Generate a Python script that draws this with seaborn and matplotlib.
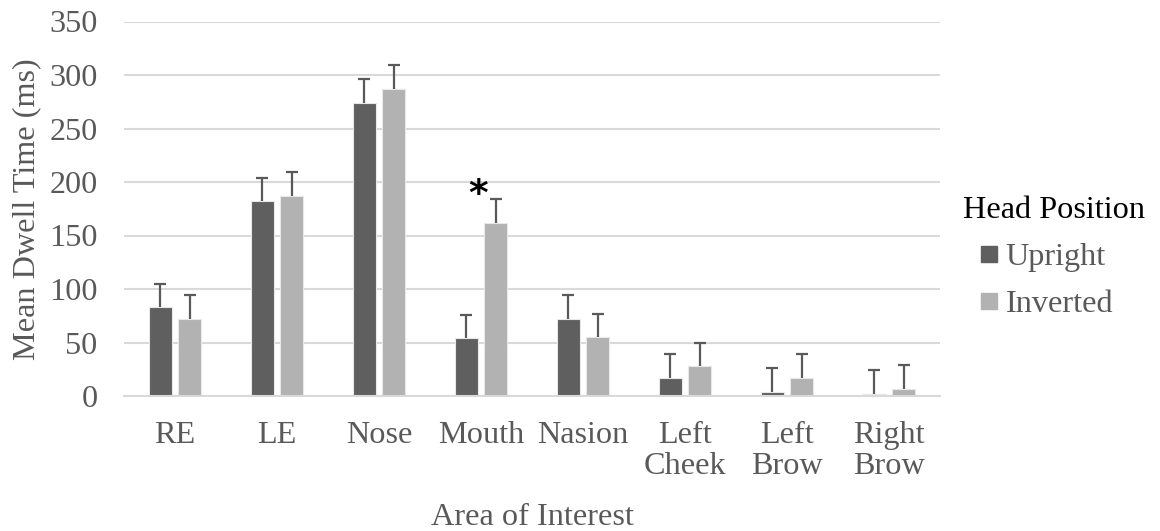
import matplotlib
matplotlib.use("Agg")
import matplotlib.pyplot as plt
import seaborn as sns
import pandas as pd
import numpy as np
from matplotlib.lines import Line2D

categories = ["RE", "LE", "Nose", "Mouth", "Nasion", "Left\nCheek", "Left\nBrow", "Right\nBrow"]
series_names = ["Upright", "Inverted"]
upright = [83, 182, 274, 54, 72, 17, 4, 2]
inverted = [72, 187, 287, 162, 55, 28, 17, 7]
upright_err = [22, 22, 22, 22, 22, 22, 22, 22]
inverted_err = [22, 22, 22, 22, 22, 22, 22, 22]
yticks = [0, 50, 100, 150, 200, 250, 300, 350]
star_value = 188

sns.set_theme(style="white")
plt.rcParams['font.family'] = ['Liberation Serif', 'DejaVu Serif']

df = pd.DataFrame({
    "Area": categories * 2,
    "Head Position": [series_names[0]] * len(categories) + [series_names[1]] * len(categories),
    "Dwell": upright + inverted,
})
errs = upright_err + inverted_err

FS = 23.2
colors = ["#5f5f5f", "#b2b2b2"]
fig = plt.figure(figsize=(11.6, 5.31), dpi=100)
ax = fig.add_axes([124/1160, 1 - 396/531, (940 - 124)/1160, (396 - 21.5)/531])

sns.barplot(data=df, x="Area", y="Dwell", hue="Head Position", order=categories,
            hue_order=series_names, palette=colors, errorbar=None, width=0.571,
            gap=0.23, edgecolor="#e8e8e8", linewidth=0.8, ax=ax, legend=False, zorder=2)

patches = ax.patches[:2 * len(categories)]
for p, e in zip(patches, errs):
    xc = p.get_x() + p.get_width() / 2
    h = p.get_height()
    _, caps, _ = ax.errorbar([xc], [h], yerr=[[0], [e]], fmt="none", ecolor="#595959",
                             elinewidth=1.6, capsize=4, capthick=1.6, zorder=3)
    if len(caps) == 2:
        caps[0].set_visible(False)

# asterisk above Mouth inverted
mouth_idx = categories.index("Mouth")
pm = patches[len(categories) + mouth_idx]
ax.text(pm.get_x() + pm.get_width() / 2 - 0.17, star_value, "*", ha="center", va="center",
        fontsize=27, fontweight="bold", color="black", family="DejaVu Sans")

ax.set_ylim(0, 350)
ax.set_yticks(yticks)
ax.set_xlim(-0.5, len(categories) - 0.5)
ax.yaxis.grid(True, color="#d9d9d9", linewidth=1.5, zorder=0)
ax.set_axisbelow(True)
for s in ["top", "right", "left"]:
    ax.spines[s].set_visible(False)
ax.spines["bottom"].set_color("#d9d9d9")
ax.spines["bottom"].set_linewidth(1.5)
ax.tick_params(axis="both", length=0, labelsize=FS, labelcolor="#595959")
ax.tick_params(axis="y", pad=19)
ax.tick_params(axis="x", pad=18)
for t in ax.get_xticklabels():
    t.set_linespacing(1.07)
ax.set_xlabel("Area of Interest", fontsize=FS, color="#595959", labelpad=16)
ax.set_ylabel("Mean Dwell Time (ms)", fontsize=FS, color="#595959", labelpad=6)

handles = [Line2D([0], [0], marker="s", linestyle="none", markersize=12,
                  markerfacecolor=c, markeredgecolor=c) for c in colors]
leg = ax.legend(handles, series_names, title="Head Position", frameon=False,
                loc="center left", bbox_to_anchor=(1.0, 0.37), fontsize=FS,
                title_fontsize=FS, handletextpad=-0.3, labelspacing=0.55,
                handlelength=1.63, borderpad=0.2)
leg._legend_box.align = "left"
for t in leg.get_texts():
    t.set_color("#595959")
leg.get_title().set_color("black")

fig.savefig("out.png", dpi=100)
